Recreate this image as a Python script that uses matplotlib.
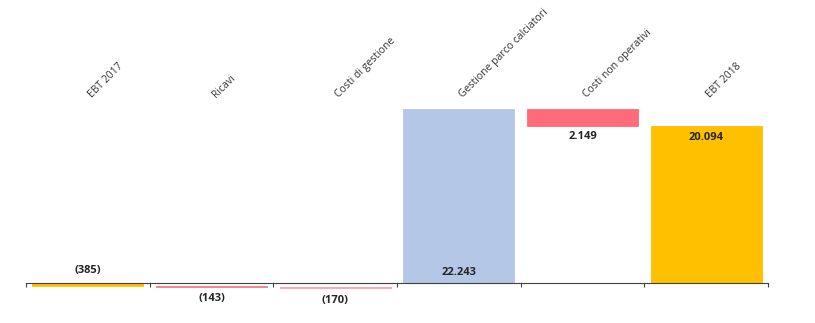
import numpy as np
import matplotlib.pyplot as plt

plt.rcParams['font.family'] = ['Open Sans', 'DejaVu Sans']

# ===================== DATA =====================
categories = ["EBT 2017", "Ricavi", "Costi di gestione",
              "Gestione parco calciatori", "Costi non operativi", "EBT 2018"]
bar_bottom = [-385, -528, -698, 0, 20094, 0]
bar_height = [385, 143, 170, 22243, 2149, 20094]
value_labels = ["(385)", "(143)", "(170)", "22.243", "2.149", "20.094"]
colors = ["#FFC000", "#F47C85", "#FFA3AA", "#B4C7E7", "#FF6B78", "#FFC000"]

# ===================== PLOT =====================
fig = plt.figure(figsize=(8.15, 3.23), dpi=100)
ax = fig.add_axes([26/815, 16.5/323, 742/815, 206.5/323])

x = np.arange(len(categories))
ax.bar(x, bar_height, bottom=bar_bottom, width=0.9, color=colors,
       edgecolor=colors, linewidth=0.6, zorder=2)

ax.set_xlim(-0.5, len(categories) - 0.5)
ax.set_ylim(-3000, 23400)

# labels: (anchor value, offset in points)
px = 0.72
lab_pos = [(0, 13*px), (-528, -11*px), (-698, -12*px),
           (0, 11*px), (20094, -11*px), (20094, -12*px)]
for i, (lab, (yv, off)) in enumerate(zip(value_labels, lab_pos)):
    ax.annotate(lab, (x[i], yv), xytext=(0, off), textcoords='offset points',
                ha='center', va='center', fontsize=8, fontweight='bold',
                color='#262626')

# category names on top, rotated
for i, name in enumerate(categories):
    ax.text(x[i] + 0.05, 23400, name, rotation=45, rotation_mode='anchor',
            ha='left', va='bottom', fontsize=7.5, color='#333333')

for s in ['top', 'right', 'left']:
    ax.spines[s].set_visible(False)
ax.spines['bottom'].set_position(('data', 0))
ax.spines['bottom'].set_color('#404040')
ax.spines['bottom'].set_zorder(3)
ax.set_yticks([])
ax.set_xticks(np.arange(-0.5, len(categories), 1.0))
ax.set_xticklabels([])
ax.tick_params(axis='x', direction='out', length=3, color='#404040')

plt.savefig("out.png", dpi=100)
plt.close()
